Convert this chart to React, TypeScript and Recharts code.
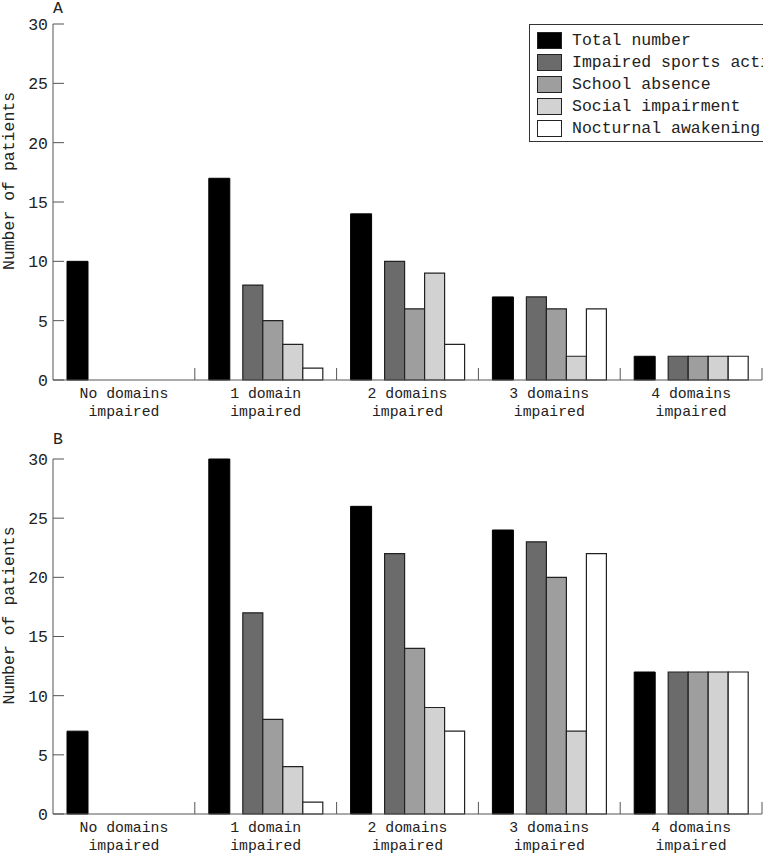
import React from "react";
import { BarChart, Bar, XAxis, YAxis, Legend } from "recharts";

const categories = [
  "No domains\nimpaired",
  "1 domain\nimpaired",
  "2 domains\nimpaired",
  "3 domains\nimpaired",
  "4 domains\nimpaired",
];

const seriesKeys = ["total", "sports", "school", "social", "nocturnal"];
const seriesNames = [
  "Total number",
  "Impaired sports activity",
  "School absence",
  "Social impairment",
  "Nocturnal awakening",
];
const seriesColors = ["#000000", "#6b6b6b", "#9e9e9e", "#d2d2d2", "#ffffff"];

// panel A
const totalA = [10, 17, 14, 7, 2];
const sportsA = [0, 8, 10, 7, 2];
const schoolA = [0, 5, 6, 6, 2];
const socialA = [0, 3, 9, 2, 2];
const nocturnalA = [0, 1, 3, 6, 2];

// panel B
const totalB = [7, 30, 26, 24, 12];
const sportsB = [0, 17, 22, 23, 12];
const schoolB = [0, 8, 14, 20, 12];
const socialB = [0, 4, 9, 7, 12];
const nocturnalB = [0, 1, 7, 22, 12];

const yTicks = [0, 5, 10, 15, 20, 25, 30];

const FONT = "'Liberation Mono', 'DejaVu Sans Mono', monospace";
const INK = "#222";
const AXIS = "#555";

function buildData(cols: number[][]) {
  return categories.map((category, i) => {
    const row: Record<string, string | number> = { category };
    seriesKeys.forEach((k, s) => {
      row[k] = cols[s][i];
    });
    return row;
  });
}

const dataA = buildData([totalA, sportsA, schoolA, socialA, nocturnalA]);
const dataB = buildData([totalB, sportsB, schoolB, socialB, nocturnalB]);

const CategoryTick = (props: any) => {
  const { x, y, payload } = props;
  const lines = String(payload.value).split("\n");
  const half = payload.offset ?? 0;
  return (
    <g>
      <line x1={x + half} x2={x + half} y1={y - 12} y2={y} stroke={AXIS} strokeWidth={1} />
      {lines.map((line, i) => (
        <text
          key={i}
          x={x}
          y={y + 18 + i * 18}
          textAnchor="middle"
          fontFamily={FONT}
          fontSize={14.8}
          fill={INK}
        >
          {line}
        </text>
      ))}
    </g>
  );
};

const renderLegend = (props: any) => {
  const items = (props.payload || [])
    .filter((p: any) => p.type !== "none" && seriesNames.includes(p.value))
    .sort((a: any, b: any) => seriesNames.indexOf(a.value) - seriesNames.indexOf(b.value));
  return (
    <div
      style={{
        border: "1px solid #333",
        background: "#fff",
        width: 250,
        padding: "4px 0 2px 7px",
        fontFamily: FONT,
        fontSize: 16.5,
        color: INK,
        whiteSpace: "nowrap",
      }}
    >
      {items.map((item: any) => (
        <div key={item.value} style={{ display: "flex", alignItems: "center", height: 22 }}>
          <span
            style={{
              display: "inline-block",
              flexShrink: 0,
              width: 23,
              height: 15,
              background: item.color,
              border: "1.5px solid #222",
              marginRight: 10,
            }}
          />
          <span>{item.value}</span>
        </div>
      ))}
    </div>
  );
};

function Panel({
  data,
  letter,
  height,
  marginTop,
  xAxisHeight,
  showLegend,
  letterTop,
}: {
  data: Record<string, string | number>[];
  letter: string;
  height: number;
  marginTop: number;
  xAxisHeight: number;
  showLegend: boolean;
  letterTop: number;
}) {
  return (
    <div style={{ position: "relative", width: 763, height }}>
      <div
        style={{
          position: "absolute",
          left: 53,
          top: letterTop,
          fontFamily: FONT,
          fontSize: 16.5,
          lineHeight: 1,
          color: INK,
          zIndex: 2,
        }}
      >
        {letter}
      </div>
      <BarChart
        width={763}
        height={height}
        data={data}
        margin={{ top: marginTop, right: 1, bottom: 0, left: 0 }}
        barGap={0}
      >
        <XAxis
          dataKey="category"
          interval={0}
          height={xAxisHeight}
          tickSize={0}
          tickMargin={0}
          tickLine={false}
          axisLine={{ stroke: AXIS }}
          tick={<CategoryTick />}
        />
        <YAxis
          width={53}
          domain={[0, 30]}
          ticks={yTicks}
          interval={0}
          tickSize={-11}
          tickMargin={16}
          axisLine={{ stroke: AXIS }}
          tickLine={{ stroke: AXIS }}
          tick={{ fontFamily: FONT, fontSize: 16.5, fill: INK }}
          label={{
            value: "Number of patients",
            angle: -90,
            position: "center",
            dx: -18.5,
            dy: -21,
            style: { fontFamily: FONT, fontSize: 16.5, fill: INK },
          }}
        />
        {showLegend && (
          <Legend
            layout="horizontal"
            verticalAlign="middle"
            align="center"
            content={renderLegend}
            wrapperStyle={{ position: "absolute", left: 529, top: 24, width: 250 }}
          />
        )}
        <Bar
          dataKey="total"
          name={seriesNames[0]}
          fill={seriesColors[0]}
          stroke="#000"
          barSize={21}
          isAnimationActive={false}
        />
        <Bar dataKey="gap" barSize={13} legendType="none" isAnimationActive={false} />
        {seriesKeys.slice(1).map((key, i) => (
          <Bar
            key={key}
            dataKey={key}
            name={seriesNames[i + 1]}
            fill={seriesColors[i + 1]}
            stroke="#222"
            strokeWidth={1.2}
            barSize={20}
            isAnimationActive={false}
          />
        ))}
      </BarChart>
    </div>
  );
}

export default function App() {
  return (
    <div
      style={{
        position: "absolute",
        left: 0,
        top: 0,
        width: 763,
        height: 853,
        overflow: "hidden",
        background: "#fff",
      }}
    >
      <Panel data={dataA} letter="A" height={430} marginTop={24} xAxisHeight={50} showLegend letterTop={1} />
      <Panel data={dataB} letter="B" height={423} marginTop={29} xAxisHeight={39} showLegend={false} letterTop={2} />
    </div>
  );
}
